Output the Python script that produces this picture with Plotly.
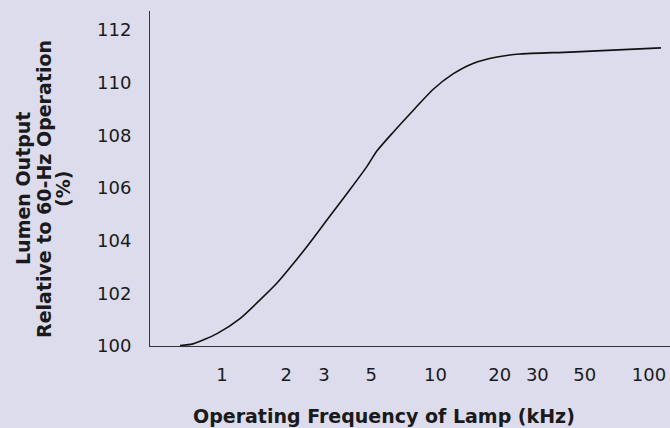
import plotly.graph_objects as go

# Operating frequency (kHz) and lumen output relative to 60-Hz operation (%)
freq_khz = [0.636, 0.731, 0.948, 1.214, 1.507, 1.810, 2.150, 2.501, 2.816, 3.311,
            3.977, 4.777, 5.321, 6.323, 8.017, 9.734, 12.08, 14.99, 19.42, 24.88,
            42.66, 113.8]
lumen_pct = [100.02, 100.08, 100.47, 101.04, 101.75, 102.39, 103.11, 103.78, 104.33,
             105.09, 105.94, 106.82, 107.41, 108.11, 109.02, 109.74, 110.33, 110.73,
             110.97, 111.09, 111.16, 111.32]

x_ticks = [1, 2, 3, 5, 10, 20, 30, 50, 100]
x_tick_labels = ["1", "2", "3", "5", "10", "20", "30", "50", "100"]
y_ticks = [100, 102, 104, 106, 108, 110, 112]
y_tick_labels = ["100", "102", "104", "106", "108", "110", "112"]

x_title = "Operating Frequency of Lamp (kHz)"
y_title_lines = ["Lumen Output", "Relative to 60-Hz Operation", "(%)"]

BG = "rgb(220,220,237)"
FONT = "DejaVu Sans, Verdana, sans-serif"
TXT = "#1a1a1a"

fig = go.Figure()
fig.add_trace(go.Scatter(
    x=freq_khz, y=lumen_pct, mode="lines",
    line=dict(color="#111111", width=1.6, shape="spline", smoothing=0.6),
    hoverinfo="skip", showlegend=False,
))

fig.update_layout(
    width=670, height=428,
    margin=dict(l=150, r=0, t=11, b=82),
    paper_bgcolor=BG, plot_bgcolor=BG,
    font=dict(family=FONT, size=18, color=TXT),
    showlegend=False,
)

fig.update_xaxes(
    type="log", range=[-0.3372, 2.0984],
    tickvals=x_ticks, ticktext=x_tick_labels,
    showgrid=False, zeroline=False,
    showline=True, linecolor="#333333", linewidth=1,
    ticks="", ticklabelstandoff=12,
    tickfont=dict(family=FONT, size=18, color=TXT),
)
fig.update_yaxes(
    range=[100, 112.72],
    tickvals=y_ticks, ticktext=y_tick_labels,
    showgrid=False, zeroline=False,
    showline=True, linecolor="#333333", linewidth=1,
    ticks="", ticklabelstandoff=14,
    tickfont=dict(family=FONT, size=18, color=TXT),
)

# axis titles placed as annotations
plot_l, plot_w, plot_b, plot_h = 150, 520, 346, 335
def px_to_paper_x(px):
    return (px - plot_l) / plot_w
def px_to_paper_y(py):
    return (plot_b - py) / plot_h

fig.add_annotation(
    text="<b>" + x_title + "</b>", xref="paper", yref="paper",
    x=px_to_paper_x(383.5), y=px_to_paper_y(416), showarrow=False,
    xanchor="center", yanchor="middle",
    font=dict(family=FONT, size=19, color=TXT),
)
for line_text, cx in zip(y_title_lines, [23, 44, 63]):
    fig.add_annotation(
        text="<b>" + line_text + "</b>", xref="paper", yref="paper",
        x=px_to_paper_x(cx), y=px_to_paper_y(189), showarrow=False,
        textangle=-90, xanchor="center", yanchor="middle",
        font=dict(family=FONT, size=19, color=TXT),
    )

fig.write_html("out.html", config={"displayModeBar": False},
               post_script="document.body.style.margin='0';")
